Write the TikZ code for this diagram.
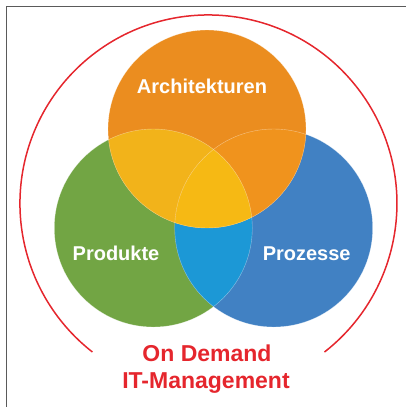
\documentclass[tikz,border=0pt]{standalone}
\usepackage{fontspec}
\setmainfont{Liberation Sans}
\definecolor{corange}{HTML}{EB8D1F}
\definecolor{cgreen}{HTML}{72A544}
\definecolor{cblue}{HTML}{4181C3}
\definecolor{cog}{HTML}{F2B31A}
\definecolor{cob}{HTML}{F0931D}
\definecolor{cgb}{HTML}{1C98D6}
\definecolor{cmid}{HTML}{F6B914}
\definecolor{cred}{HTML}{E5262D}
\definecolor{cframe}{HTML}{5A5A5A}
\tikzset{
  lbl/.style={text=white, font=\bfseries\fontsize{20}{24}\selectfont, anchor=base, inner sep=0pt},
  redlbl/.style={text=cred, font=\bfseries\fontsize{23}{26}\selectfont, anchor=base, inner sep=0pt},
  seam/.style={draw=white, draw opacity=0.45, line width=0.4pt}
}
\begin{document}
\begin{tikzpicture}[x=1pt,y=-1pt]
\useasboundingbox (0,0) rectangle (406,407);
\draw[cframe, line width=1.3pt] (6.5,410) -- (6.5,6.5) -- (410,6.5);
\coordinate (cA) at (207,129);
\coordinate (cP) at (153.3,228);
\coordinate (cZ) at (273.7,228);
% base circles
\fill[cgreen] (cP) circle (99pt);
\fill[cblue] (cZ) circle (99pt);
\fill[corange] (cA) circle (99pt);
% pairwise overlaps
\begin{scope}
  \clip (cP) circle (99pt);
  \fill[cgb] (cZ) circle (99pt);
  \fill[cog] (cA) circle (99pt);
\end{scope}
\begin{scope}
  \clip (cZ) circle (99pt);
  \fill[cob] (cA) circle (99pt);
\end{scope}
% triple overlap
\begin{scope}
  \clip (cP) circle (99pt);
  \clip (cZ) circle (99pt);
  \fill[cmid] (cA) circle (99pt);
\end{scope}
% seams
\path[seam] (cP) circle (99pt);
\path[seam] (cZ) circle (99pt);
\path[seam] (cA) circle (99pt);
% red arc
\coordinate (arcR) at (324.5,352);
\draw[cred, line width=1.5pt] (arcR) arc[start angle=-52, end angle=232, radius=188.5pt];
% labels
\node[lbl] (arch) at (202,93.3) {Architekturen};
\node[lbl] (prod) at (116,260) {Produkte};
\node[lbl] (proz) at (306.7,260) {Prozesse};
\node[redlbl] (ond) at (207,361) {On Demand};
\node[redlbl] (itm) at (206,388.3) {IT-Management};
\end{tikzpicture}
\end{document}
